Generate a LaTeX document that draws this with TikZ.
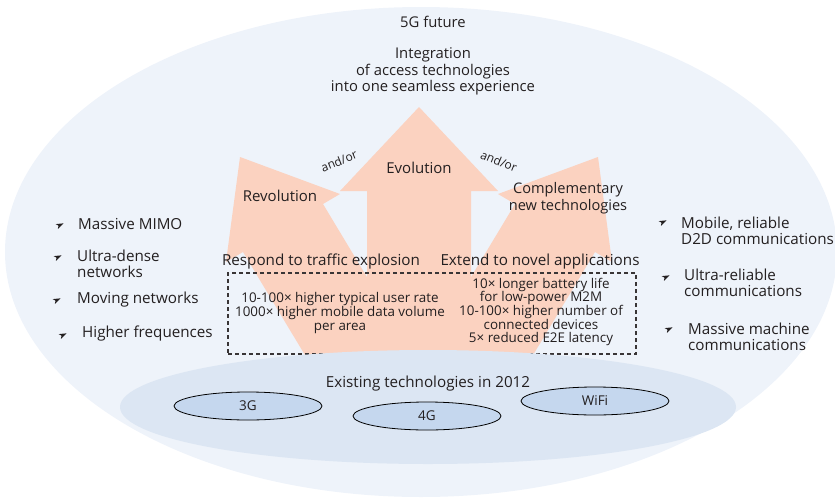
\documentclass[tikz,border=0pt]{standalone}
\usepackage{fontspec}
\setmainfont{Open Sans}
\usetikzlibrary{shapes}

\definecolor{bigbg}{HTML}{EEF3FA}
\definecolor{techbg}{HTML}{DCE6F3}
\definecolor{radio}{HTML}{C5D7EE}
\definecolor{pinkarr}{HTML}{FBD2C0}
\definecolor{ink}{HTML}{231F20}

\tikzset{
  lbl/.style={align=center,text=ink,inner sep=0pt,font=\fontsize{15.2}{16.5}\selectfont},
  big/.style={lbl,font=\fontsize{15}{17}\selectfont},
  stat/.style={lbl,font=\fontsize{13.4}{13.6}\selectfont},
  item/.style={align=left,anchor=west,text=ink,inner sep=0pt,font=\fontsize{15.2}{16}\selectfont},
  bul/.pic={\fill[ink,rotate=25] (4,0) -- (-3.5,-2.6) -- (-1.6,0) -- (-3.5,2.6) -- cycle;},
  radiobox/.style={shape=ellipse,draw=black,fill=radio,line width=0.8pt,minimum width=148pt,minimum height=28pt,inner sep=0pt,text=ink,font=\fontsize{13.5}{15}\selectfont}
}

\begin{document}
\begin{tikzpicture}[x=1pt,y=-1pt]
\useasboundingbox (0,0) rectangle (835,498);
\fill[bigbg] (421,252) ellipse [x radius=416, y radius=245];

% arrows
\fill[pinkarr] (419,107) -- (498,191) -- (471,191) -- (471,420) -- (367,420) -- (367,191) -- (340,191) -- cycle;
\fill[pinkarr] (240,157) -- (340,194) -- (323,204) -- (453,420) -- (344,420) -- (243,252) -- (226,262) -- cycle;
\fill[pinkarr] (598,157) -- (498,194) -- (515,204) -- (385,420) -- (494,420) -- (595,252) -- (612,262) -- cycle;

\node[draw=ink!90,dashed,dash pattern=on 4pt off 3pt,line width=1.1pt,minimum width=408pt,minimum height=81pt,inner sep=0pt] (9) at (432,313.5) {};

\node[shape=ellipse,fill=techbg,minimum width=616pt,minimum height=114pt] (12) at (428,407) {};

\node[lbl,font=\fontsize{14.8}{16.5}\selectfont] (0) at (433,22) {5G future};
\node[lbl,font=\fontsize{14.8}{16.5}\selectfont] (1) at (433,71.5) {Integration\\of access technologies\\into one seamless experience};
\node[big] (2) at (419,168) {Evolution};
\node[big] (3) at (280,196) {Revolution};
\node[big,font=\fontsize{14.6}{17}\selectfont] (4) at (568,198.5) {Complementary\\new technologies};
\node[lbl,font=\fontsize{12}{13}\selectfont,rotate=22] (5) at (339,161) {and/or};
\node[lbl,font=\fontsize{12}{13}\selectfont,rotate=-22] (6) at (499,161) {and/or};
\node[lbl] (7) at (321,262) {Respond to traffic explosion};
\node[lbl] (8) at (540,262) {Extend to novel applications};
\node[stat] (10) at (340,313) {10-100× higher typical user rate\\1000× higher mobile data volume\\per area};
\node[stat] (11) at (541,312) {10× longer battery life\\for low-power M2M\\10-100× higher number of\\connected devices\\5× reduced E2E latency};

\node[lbl] (13) at (428,384) {Existing technologies in 2012};
\node[radiobox] (14) at (248,406) {3G};
\node[radiobox] (15) at (427,416) {4G};
\node[radiobox] (16) at (595,401) {WiFi};

% left list
\pic at (60,225) {bul};
\node[item] (21) at (78,224) {Massive MIMO};
\pic at (58,257) {bul};
\node[item] (23) at (77,264) {Ultra-dense\\networks};
\pic at (57,300) {bul};
\node[item] (25) at (77,300) {Moving networks};
\pic at (63,335) {bul};
\node[item] (27) at (82,334) {Higher frequences};

% right list
\pic at (663,222) {bul};
\node[item] (31) at (681,231) {Mobile, reliable\\D2D communications};
\pic at (666,277) {bul};
\node[item] (33) at (684,283) {Ultra-reliable\\communications};
\pic at (669,329) {bul};
\node[item] (35) at (688,337) {Massive machine\\communications};
\end{tikzpicture}
\end{document}
